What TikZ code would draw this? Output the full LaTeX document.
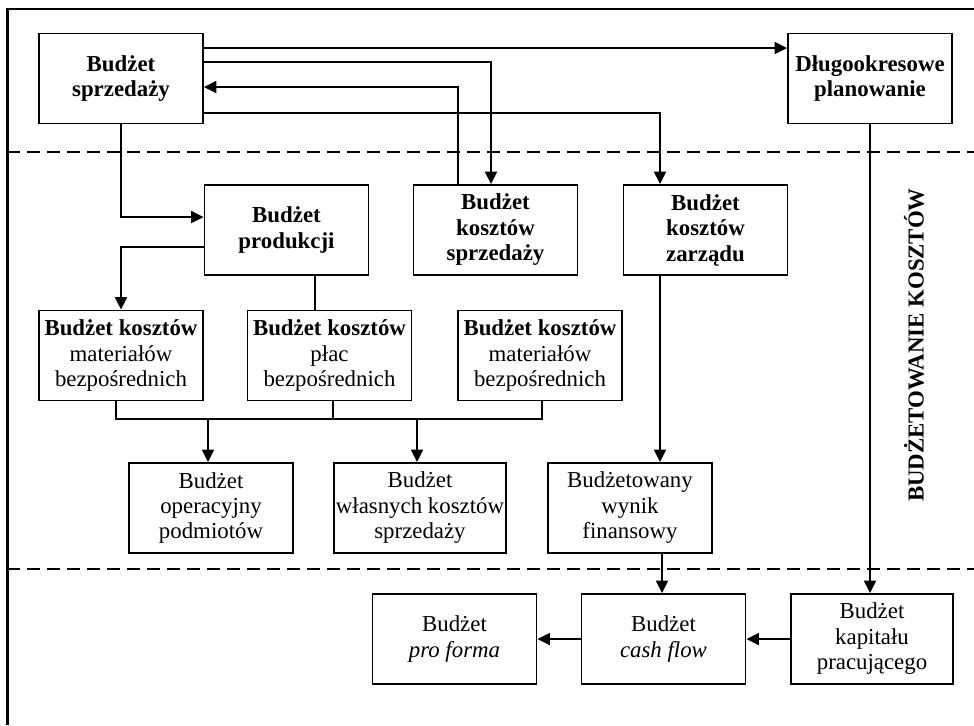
\documentclass[tikz,border=0pt]{standalone}
\usepackage{fontspec}
\setmainfont{Liberation Serif}
\usetikzlibrary{arrows.meta}

\begin{document}
\begin{tikzpicture}[x=0.02cm,y=-0.02cm,
    block/.style={draw,line width=1.1pt,align=center,inner sep=1pt,
      minimum width=3.28cm,minimum height=1.8cm,
      font=\fontsize{13}{14.5}\selectfont},
    head/.style={block,font=\fontsize{13}{14.5}\selectfont\bfseries},
    arr/.style={line width=1pt,-{Triangle[length=2.5mm,width=2.4mm]}},
    sep/.style={line width=1pt,dash pattern=on 2.6mm off 1.4mm}]
  \useasboundingbox (0,0) rectangle (974,725);
  \draw[line width=1.2pt] (7.5,725) -- (7.5,9) -- (974,9);
  \draw[sep] (7.5,152) -- (974,152);
  \draw[sep] (7.5,569) -- (974,569);

  \node[head] (plan1) at (121,78.5) {Budżet\\sprzedaży};
  \node[head] (plan2) at (870,78.5) {Długookresowe\\planowanie};
  \node[head] (cost1) at (286.5,230) {Budżet\\produkcji};
  \node[head] (cost2) at (495.5,230) {Budżet\\kosztów\\sprzedaży};
  \node[head] (cost3) at (705.5,230) {Budżet\\kosztów\\zarządu};
  \node[block] (mat1) at (121,355.5) {\textbf{Budżet kosztów}\\materiałów\\bezpośrednich};
  \node[block] (mat2) at (329.5,355.5) {\textbf{Budżet kosztów}\\płac\\bezpośrednich};
  \node[block] (mat3) at (540,355.5) {\textbf{Budżet kosztów}\\materiałów\\bezpośrednich};
  \node[block] (res1) at (211,508) {Budżet\\operacyjny\\podmiotów};
  \node[block,minimum width=3.44cm] (res2) at (420,508) {Budżet\\własnych kosztów\\sprzedaży};
  \node[block] (res3) at (630,508) {Budżetowany\\wynik\\finansowy};
  \node[block] (fin1) at (454.5,639) {Budżet\\\textit{pro forma}};
  \node[block] (fin2) at (663.5,639) {Budżet\\\textit{cash flow}};
  \node[block,minimum width=3.24cm] (fin3) at (872,639) {Budżet\\kapitału\\pracującego};
  \node[font=\fontsize{13}{14.5}\selectfont\bfseries,rotate=90] (label) at (914,345) {BUDŻETOWANIE KOSZTÓW};

  \coordinate (busL) at (116,419);
  \coordinate (busR) at (542,419);

  \draw[arr] (plan1.east |- 0,48) -- (plan2.west |- 0,48);
  \draw[arr] (plan1.east |- 0,62) -| (cost2.north -| 491,0);
  \draw[arr] (cost2.north -| 458,0) |- (plan1.east |- 0,87);
  \draw[arr] (plan1.east |- 0,113) -| (cost3.north -| 660,0);
  \draw[arr] (plan1.south) |- (cost1.west |- 0,217);
  \draw[arr] (cost1.west |- 0,247) -| (mat1.north);
  \draw[line width=1pt] (cost1.south -| 315,0) -- (mat2.north -| 315,0);
  \draw[line width=1pt] (mat1.south -| busL) -- (busL) -- (busR) -- (mat3.south -| busR);
  \draw[line width=1pt] (mat2.south -| 333,0) -- (busL -| 333,0);
  \draw[arr] (busL -| 208,0) -- (res1.north -| 208,0);
  \draw[arr] (busL -| 417,0) -- (res2.north -| 417,0);
  \draw[arr] (cost3.south -| 660,0) -- (res3.north -| 660,0);
  \draw[arr] (res3.south -| 662,0) -- (fin2.north -| 662,0);
  \draw[arr] (plan2.south) -- (plan2.south |- fin3.north);
  \draw[arr] (fin3.west) -- (fin2.east);
  \draw[arr] (fin2.west) -- (fin1.east);
\end{tikzpicture}
\end{document}
